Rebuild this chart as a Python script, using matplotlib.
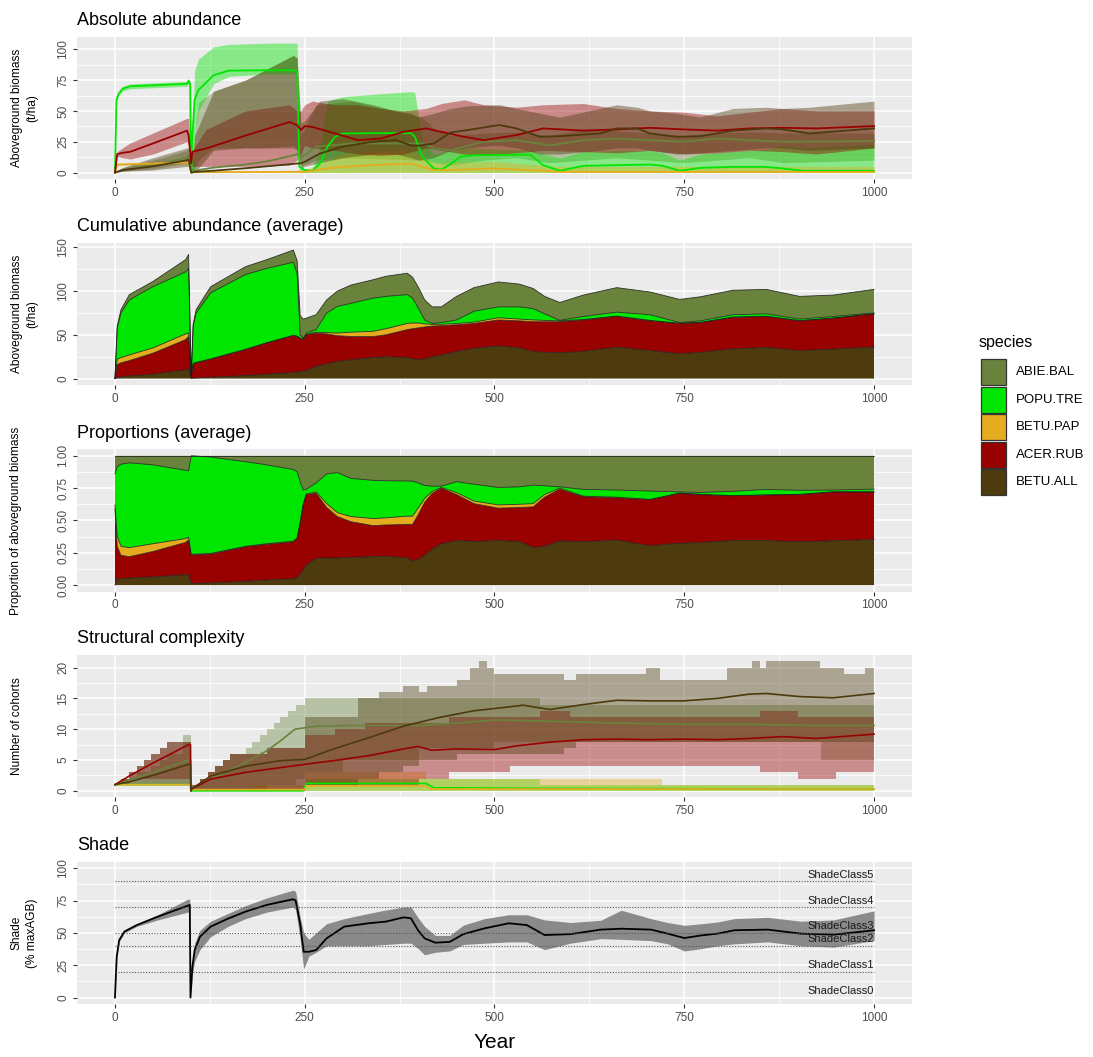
import numpy as np
import matplotlib
matplotlib.use("Agg")
import matplotlib.pyplot as plt
from matplotlib.patches import Rectangle

plt.rcParams['font.family'] = ['Liberation Sans', 'DejaVu Sans']

# ---------------- species & colours ----------------
species = ["ABIE.BAL", "POPU.TRE", "BETU.PAP", "ACER.RUB", "BETU.ALL"]
colors = {"ABIE.BAL": "#6A833C", "POPU.TRE": "#00E600", "BETU.PAP": "#E6AC20",
          "ACER.RUB": "#990000", "BETU.ALL": "#4D3A0D"}
stack_order = ["BETU.ALL", "ACER.RUB", "BETU.PAP", "POPU.TRE", "ABIE.BAL"]

# ---------------- Panel 1: absolute abundance (mean, lower, upper) ----------------
abs_years_popu = [0, 2, 5, 10, 20, 95, 97, 99, 100.5, 102, 105, 110, 130, 150, 200, 235, 240, 243, 250, 260,
                  270, 280, 290, 300, 350, 390, 395, 405, 420, 430, 440, 455, 470, 547, 564, 586, 617, 661, 705, 722,
                  744, 771, 814, 858, 880, 907, 1000]
abs_mean_popu = [0, 59, 64, 68, 70, 72, 74.5, 72, 0, 30, 59, 67, 79, 82.7, 83, 83, 82, 4.6, 2, 1.4,
                 7.3, 21, 29, 31.7, 32, 32, 29, 12.7, 3.3, 2.4, 6, 12.7, 14, 14.6, 6, 1.4, 5.4, 6, 6.5, 5.4,
                 1.4, 3.8, 4.6, 4.6, 3.3, 1.4, 1.4]
abs_hi_popu = [0, 61, 66, 70, 72, 74, 76.5, 74, 0, 40, 83, 92, 102, 104, 105, 105, 105, 5, 3, 3,
               20, 58, 60, 61.5, 64, 65.6, 65, 25, 15, 16, 18, 20, 20, 18, 15, 12, 17, 18, 18, 16,
               10, 15, 17, 19, 22, 20, 23]
abs_lo_popu = [0, 57, 62, 66, 68, 70, 72.5, 70, 0, 0, 30, 50, 72, 78, 80, 80, 80, 0, 0, 0,
               0, 0, 0, 0, 0, 0, 0, 0, 0, 0, 0, 0, 0, 0, 0, 0, 0, 0, 0, 0,
               0, 0, 0, 0, 0, 0, 0]

abs_years_acer = [0, 3, 10, 20, 50, 95, 97, 100.5, 102, 120, 172, 230, 240, 245, 250, 260, 290, 320, 350, 380,
                  410, 430, 460, 486, 529, 564, 617, 661, 705, 749, 793, 836, 880, 924, 1000]
abs_mean_acer = [0, 15, 16, 16.8, 23.6, 34, 30, 7.3, 16.8, 19.5, 30, 41, 38.5, 34.4, 37.7, 37, 31.7, 26.3, 27.6, 33,
                 35.8, 33, 29, 26.3, 30.4, 35.8, 34, 35, 36.3, 35, 34, 35.8, 36.3, 35.8, 37.7]
abs_hi_acer = [0, 17, 20, 24, 32, 44, 44, 8, 18, 35, 50, 55, 50, 50, 55, 58, 55, 55, 52, 50,
               52, 56, 59, 55, 53, 55, 56, 52, 50, 49, 46, 49, 52, 50, 50]
abs_lo_acer = [0, 13, 12, 11, 15, 25, 22, 6, 5, 5, 5, 6, 10, 15, 22, 20, 18, 15, 14, 15,
               20, 18, 15, 14, 16, 18, 17, 16, 18, 15, 16, 18, 17, 15, 20]

abs_years_betuall = [0, 10, 50, 95, 97, 100.5, 105, 130, 172, 235, 240, 245, 250, 270, 300, 340, 370, 390, 400, 420,
                     442, 464, 499, 507, 529, 560, 586, 639, 661, 688, 705, 740, 771, 814, 858, 880, 915, 1000]
abs_mean_betuall = [0, 2, 5, 10, 10.5, 0, 0.5, 1.5, 3.5, 7, 7.3, 7.5, 8.7, 15.4, 21, 25, 26.3, 22, 21.7, 23.6,
                    32.5, 34.4, 37.9, 38.5, 35.8, 29, 29.5, 31.7, 35.8, 35.8, 31.7, 29, 29.5, 34, 35.8, 35, 31.7, 35.8]
abs_hi_betuall = [0, 4, 12, 20, 20, 0, 30, 66, 75, 95, 93, 40, 42, 58, 60, 55, 50, 48, 45, 48,
                  52, 54, 55, 55, 52, 48, 45, 52, 55, 53, 50, 48, 45, 52, 53, 52, 53, 58]
abs_lo_betuall = [0, 1, 2, 5, 5, 0, 0, 18, 20, 20, 18, 3, 5, 8, 12, 15, 15, 12, 10, 12,
                  18, 20, 22, 22, 20, 15, 15, 18, 20, 20, 18, 15, 16, 18, 20, 20, 18, 20]

abs_years_abie = [0, 10, 50, 95, 97, 100.5, 105, 110, 130, 172, 200, 235, 240, 245, 265, 311, 404, 422, 442, 486,
                  529, 573, 617, 661, 749, 793, 836, 880, 1000]
abs_mean_abie = [0, 2, 6, 12, 14, 0, 1, 2, 4, 6.5, 9, 14, 15, 12, 21, 23.6, 23.6, 19.5, 18, 25,
                 26.3, 22, 26.3, 27.6, 25, 27.6, 26.3, 25, 25.5]
abs_hi_abie = [0, 4, 10, 18, 20, 0, 30, 57, 66, 75, 84, 95, 93, 30, 55, 58, 45, 35, 30, 32,
               33, 30, 35, 34, 30, 32, 33, 32, 32]
abs_lo_abie = [0, 1, 3, 8, 9, 0, 2, 10, 20, 20, 20, 22, 20, 5, 10, 12, 10, 8, 6, 10,
               12, 8, 10, 12, 8, 10, 12, 8, 10]

abs_years_pap = [0, 3, 95, 97, 100.5, 105, 240, 250, 280, 300, 340, 390, 400, 420, 442, 499, 564, 586, 1000]
abs_mean_pap = [0, 6.5, 8.1, 8, 0, 0.3, 0.5, 0.5, 3.3, 4.6, 6, 7.3, 5.4, 2, 2, 3.3, 1.4, 0.5, 0.5]
abs_hi_pap = [0, 7.5, 9, 9, 0, 1, 2, 2, 10, 15, 18, 18, 14, 8, 8, 9, 6, 5, 5]
abs_lo_pap = [0, 5.5, 7, 7, 0, 0, 0, 0, 0, 0, 0, 0, 0, 0, 0, 0, 0, 0, 0]

# ---------------- Panel 2: cumulative abundance (average, per species) ----------------
cum_years = [0, 3, 8, 19, 50, 93, 97, 100.5, 103, 107, 126, 172, 200, 235, 240, 244, 248, 252, 265, 279,
             293, 311, 340, 357, 385, 392, 400, 408, 418, 430, 450, 473, 505, 533, 551, 566, 586, 617, 661, 705,
             744, 771, 814, 858, 902, 946, 1000]
avg_betuall = [0, 1, 2, 3, 5, 10, 10.5, 0, 0.5, 0.7, 1.5, 3.5, 5, 7, 7.5, 8, 8.4, 9, 14, 17,
               19.5, 21.5, 24, 25, 24, 22.4, 21.7, 22.5, 25, 27, 31, 34.5, 37.5, 35, 31, 30, 29.5, 31, 36, 32,
               28.4, 30, 34, 35.6, 32, 33.7, 36]
avg_acer = [0, 15, 16, 17.5, 24, 34.5, 37.5, 2, 16.5, 17.3, 20.5, 29.5, 35.7, 42, 40.5, 38, 36.1, 41, 38, 34,
            29.5, 26.5, 24, 25, 32, 34.6, 36.3, 36.5, 35, 33.5, 30.5, 28.5, 29.5, 31, 34, 35, 35.5, 36, 35, 34,
            34.6, 34, 36, 35.4, 34, 35.3, 38]
avg_pap = [0, 6, 6, 6.5, 6, 6.5, 4, 0, 0.5, 0.5, 0.5, 0.5, 0.3, 0.5, 0.5, 0.5, 0.5, 0.5, 1, 1.5,
           3, 5, 6, 7, 7, 6.5, 5.5, 3.5, 2, 1.5, 1.5, 1.5, 2.5, 2, 2, 1.5, 1, 0.5, 0.5, 0.5,
           0.3, 0.3, 0.3, 0.3, 0.3, 0.2, 0.2]
avg_popu = [0, 36, 51, 63, 70, 71, 74, 1, 42.5, 56.5, 75.5, 85.5, 85, 83.5, 71.5, 3.5, 1, 1.5, 3, 22.5,
            30.5, 33, 38, 37, 33, 28.5, 16.5, 4.5, 1, 2, 4, 12.5, 12.5, 14, 13, 7.5, 0.5, 3.5, 4.5, 6.5,
            0.7, 1.7, 2.7, 2.7, 1.7, 1.8, 0.8]
avg_abie = [0, 2, 4, 6, 6, 14, 16, 0, 2, 4, 7, 9, 10, 14, 15, 22, 22, 17, 17, 15,
            17.5, 21, 21, 23, 24.5, 24, 24, 23, 19, 18, 27, 27, 28.5, 26, 23, 20, 20.5, 24.5, 28, 26,
            26.5, 27.5, 28, 28, 26, 24.5, 27]

# ---------------- Panel 3: proportions (average, per species) ----------------
prop_betuall = [0, 0.05, 0.05, 0.055, 0.064, 0.08, 0.085, 0.013, 0.013, 0.015, 0.018, 0.03, 0.04, 0.05, 0.06, 0.085,
                0.12, 0.155, 0.206, 0.21, 0.21, 0.215, 0.22, 0.224, 0.21, 0.186, 0.2, 0.23, 0.28, 0.32, 0.345,
                0.338, 0.345, 0.338, 0.29, 0.3, 0.343, 0.335, 0.348, 0.305, 0.325, 0.33, 0.345, 0.345, 0.335,
                0.343, 0.353]
prop_acer = [0.59, 0.25, 0.18, 0.165, 0.196, 0.25, 0.265, 0.217, 0.222, 0.22, 0.222, 0.266, 0.275, 0.285, 0.3,
             0.395, 0.5, 0.545, 0.504, 0.39, 0.32, 0.275, 0.24, 0.241, 0.26, 0.284, 0.35, 0.41, 0.43, 0.43,
             0.355, 0.292, 0.25, 0.262, 0.315, 0.38, 0.399, 0.348, 0.327, 0.355, 0.385, 0.37, 0.345, 0.351,
             0.365, 0.377, 0.367]
prop_pap = [0.03, 0.08, 0.07, 0.07, 0.06, 0.03, 0.02, 0.005, 0.005, 0.005, 0.005, 0.004, 0.005, 0.005, 0.005,
            0.005, 0.005, 0.005, 0.01, 0.03, 0.03, 0.04, 0.055, 0.055, 0.063, 0.063, 0.05, 0.03, 0.015, 0.005,
            0.015, 0.02, 0.025, 0.025, 0.025, 0.02, 0.008, 0.005, 0.005, 0.003, 0.002, 0.002, 0.002, 0.002,
            0.002, 0.002, 0.002]
prop_popu = [0.24, 0.535, 0.635, 0.655, 0.61, 0.528, 0.514, 0.765, 0.76, 0.758, 0.745, 0.654, 0.61, 0.554, 0.511,
             0.315, 0.11, 0.035, 0.07, 0.23, 0.31, 0.295, 0.295, 0.287, 0.272, 0.271, 0.19, 0.1, 0.04, 0.01,
             0.085, 0.13, 0.135, 0.135, 0.143, 0.068, 0.01, 0.052, 0.055, 0.064, 0.008, 0.014, 0.033, 0.042,
             0.031, 0.013, 0.02]
prop_abie = [0.14, 0.085, 0.065, 0.055, 0.07, 0.112, 0.116, 0.0, 0.0, 0.002, 0.01, 0.046, 0.07, 0.106, 0.124,
             0.2, 0.265, 0.26, 0.21, 0.14, 0.13, 0.175, 0.19, 0.193, 0.195, 0.196, 0.21, 0.23, 0.235, 0.235,
             0.2, 0.22, 0.245, 0.24, 0.227, 0.232, 0.24, 0.26, 0.265, 0.273, 0.28, 0.284, 0.275, 0.26,
             0.267, 0.265, 0.258]

# ---------------- Panel 4: structural complexity (number of cohorts) ----------------
coh_years_abie = [0, 8, 19, 29, 38, 48, 59, 68, 89, 100, 101, 112, 122, 132, 142, 152, 172, 181, 191, 200,
                  209, 218, 228, 239, 251, 300, 400, 500, 560, 930, 1000]
coh_hi_abie = [1, 2, 2, 3, 3, 4, 5, 6, 9, 0, 1, 2, 3, 4, 5, 6, 7, 8, 9, 10,
               11, 12, 13, 14, 15, 15, 15, 15, 14, 14, 14]
coh_lo_abie = [1, 1, 1, 1, 1, 1, 1, 1, 1, 0, 0, 0, 0, 0, 0, 0, 0, 0, 0, 1,
               1, 1, 1, 2, 3, 5, 7, 8, 8, 5, 5]
cohm_years_abie = [0, 20, 50, 97, 99.5, 100, 101, 126, 172, 200, 218, 237, 265, 311, 404, 450, 500, 573, 661, 749,
                   836, 924, 1000]
cohm_abie = [1, 1.8, 3, 5, 5, 0, 0.5, 1.9, 4.6, 6.5, 8.1, 10, 10.5, 10.6, 10.6, 11, 11.5, 11.3, 11, 10.8,
             10.8, 10.6, 10.6]

coh_years_acer = [0, 8, 19, 29, 38, 48, 59, 68, 79, 89, 100, 101, 112, 122, 132, 142, 152, 200, 250, 290,
                  330, 370, 400, 440, 480, 520, 560, 600, 650, 700, 780, 850, 900, 950, 1000]
coh_hi_acer = [1, 2, 3, 4, 5, 6, 7, 8, 8, 8, 0, 1, 2, 3, 4, 5, 6, 7, 9, 10,
               11, 11, 11, 12, 12, 12, 13, 12, 12, 12, 12, 13, 12, 12, 12]
coh_lo_acer = [1, 1, 2, 2, 2, 2, 2, 2, 2, 2, 0, 0, 0, 0, 0, 0, 0, 0, 1, 1,
               1, 1, 2, 3, 3, 4, 4, 4, 4, 4, 4, 3, 2, 3, 4]
cohm_years_acer = [0, 20, 50, 97, 99.5, 100, 101, 126, 172, 250, 288, 334, 380, 399, 417, 450, 500, 529, 573, 617,
                   661, 705, 749, 793, 836, 880, 924, 1000]
cohm_acer = [1, 2.5, 4.5, 7.5, 7.5, 0, 0.3, 1.9, 3, 4.3, 4.9, 5.7, 6.8, 7.2, 6.6, 6.8, 6.7, 7.3, 7.9, 8.3,
             8.4, 8.3, 8.4, 8.3, 8.5, 8.8, 8.5, 9.2]

coh_years_betuall = [0, 8, 19, 29, 38, 48, 59, 68, 100, 101, 112, 122, 132, 142, 152, 200, 250, 320, 348, 380,
                     401, 411, 450, 468, 479, 490, 499, 591, 608, 700, 718, 806, 839, 850, 858, 929, 960, 988, 1000]
coh_hi_betuall = [1, 2, 3, 4, 5, 6, 7, 8, 0, 1, 2, 3, 4, 5, 6, 7, 12, 15, 16, 17,
                  16, 17, 18, 20, 21, 20, 19, 18, 19, 20, 18, 20, 21, 20, 21, 20, 19, 20, 20]
coh_lo_betuall = [1, 1, 1, 1, 1, 1, 1, 1, 0, 0, 0, 0, 0, 0, 0, 0, 1, 2, 3, 4,
                  5, 5, 6, 6, 6, 6, 6, 7, 8, 8, 8, 8, 8, 8, 8, 8, 8, 8, 8]
cohm_years_betuall = [0, 20, 50, 97, 99.5, 100, 101, 126, 172, 218, 250, 288, 334, 380, 427, 473, 510, 538, 573, 617,
                      661, 705, 749, 793, 836, 858, 902, 946, 1000]
cohm_betuall = [1, 1.5, 2.5, 4.3, 4.3, 0, 0.3, 2.4, 4, 4.9, 5.1, 6.8, 8.6, 10.5, 11.9, 13, 13.5, 13.9, 13.2, 14,
                14.7, 14.6, 14.6, 15, 15.7, 15.8, 15.3, 15.1, 15.8]

coh_years_pap = [0, 100, 101, 180, 250, 410, 720, 1000]
coh_hi_pap = [1, 0, 0, 1, 3, 2, 1, 1]
coh_lo_pap = [1, 0, 0, 0, 0, 0, 0, 0]
cohm_years_pap = [0, 99.5, 100, 101, 250, 252, 410, 415, 1000]
cohm_pap = [1, 1, 0, 0.2, 0.2, 0.8, 0.8, 0.3, 0.3]

coh_years_popu = [0, 100, 101, 250, 560, 1000]
coh_hi_popu = [1, 0, 0, 2, 1, 1]
coh_lo_popu = [1, 0, 0, 0, 0, 0]
cohm_years_popu = [0, 99.5, 100, 101, 248, 252, 410, 420, 560, 1000]
cohm_popu = [1, 1, 0, 0, 0, 1.2, 1.2, 0.5, 0.4, 0.3]

# ---------------- Panel 5: shade ----------------
shade_years = [0, 2.3, 5.6, 12.5, 28.7, 56.5, 95.8, 98.6, 99.5, 102, 105, 112, 126, 149, 172, 200, 234.7, 238, 244,
               248.6, 255.5, 265, 278.7, 302, 334, 357, 380.5, 390, 399, 408, 422, 441, 459, 487, 519, 542.6, 566,
               600, 640, 667, 706, 728, 750, 772, 794, 816, 860, 903.5, 947, 1000]
shade_mean = [0, 31.5, 44.4, 51, 56, 62.5, 71, 71.6, 0, 23.8, 36.7, 47, 54.8, 61, 66.4, 71.6, 76, 75, 57,
              35.4, 35.4, 36.7, 45.7, 54.8, 57.4, 58.7, 62, 61.2, 52.2, 45.7, 42.4, 43, 49, 53.5, 57.4, 56, 48.3,
              49, 52.5, 53.2, 52.5, 49.4, 46, 48, 49.4, 52, 52.5, 49.4, 48.6, 52]
shade_hi = [0, 32, 45, 52, 57, 64, 76, 76, 0, 26, 42, 52, 59, 65, 71, 77, 83, 82, 62,
            50, 45, 50, 57, 61, 65, 67.7, 70, 70, 62, 55, 48, 48, 56, 61, 64, 64, 60,
            58, 59.7, 67.5, 61, 58, 55.8, 57, 58.4, 61, 62, 59, 60, 67]
shade_lo = [0, 30, 43, 50, 55, 60, 66, 66, 0, 18, 28, 37, 47, 55, 61, 66, 70, 68, 45,
            22, 32, 35, 40, 40, 40, 41, 42, 42, 38, 33, 35, 36, 41, 42, 43, 43, 37,
            42, 45.5, 45, 44, 41.5, 36, 37.7, 40, 41.5, 43, 40, 39, 44]
shade_class_levels = [20, 40, 50, 70, 90]
shade_class_labels = ["ShadeClass0", "ShadeClass1", "ShadeClass2", "ShadeClass3", "ShadeClass4", "ShadeClass5"]
shade_class_label_y = [5, 25, 45, 55, 75, 95]

# ---------------- figure ----------------
W_PX, H_PX = 1093, 1057
fig = plt.figure(figsize=(W_PX / 100, H_PX / 100), dpi=100)

def fx(px):
    return px / W_PX

def fy(py):
    return 1 - py / H_PX

L = fx(77)
Wd = 835 / W_PX
Hd = 142.3 / H_PX
panel_tops = [36.7, 242.7, 449.3, 655.0, 861.7]
axes = [fig.add_axes([L, fy(t + 142.3), Wd, Hd]) for t in panel_tops]

def style(ax, ylim, yticks, ylabels, yminor, title):
    ax.set_facecolor('#EBEBEB')
    ax.set_xlim(-50, 1050)
    ax.set_ylim(*ylim)
    ax.set_xticks([0, 250, 500, 750, 1000])
    ax.set_xticklabels(["0", "250", "500", "750", "1000"])
    ax.set_xticks([125, 375, 625, 875], minor=True)
    ax.set_yticks(yticks)
    ax.set_yticklabels(ylabels, rotation=90, va='center')
    ax.set_yticks(yminor, minor=True)
    ax.grid(which='major', color='white', lw=1.1)
    ax.grid(which='minor', color='white', lw=0.55)
    ax.set_axisbelow(True)
    for s in ax.spines.values():
        s.set_visible(False)
    ax.tick_params(which='major', length=3, width=0.8, color='#333333', labelsize=8.5,
                   labelcolor='#4D4D4D', pad=2.5)
    ax.tick_params(which='minor', length=0)
    ax.set_title(title, loc='left', fontsize=13, pad=8.4, color='black')

# Panel 1
ax = axes[0]
p1 = {
    "ABIE.BAL": (abs_years_abie, abs_mean_abie, abs_lo_abie, abs_hi_abie),
    "POPU.TRE": (abs_years_popu, abs_mean_popu, abs_lo_popu, abs_hi_popu),
    "BETU.PAP": (abs_years_pap, abs_mean_pap, abs_lo_pap, abs_hi_pap),
    "ACER.RUB": (abs_years_acer, abs_mean_acer, abs_lo_acer, abs_hi_acer),
    "BETU.ALL": (abs_years_betuall, abs_mean_betuall, abs_lo_betuall, abs_hi_betuall),
}
for sp in species:
    x, m, lo, hi = p1[sp]
    ax.fill_between(x, lo, hi, color=colors[sp], alpha=0.42, lw=0)
for sp in species:
    x, m, lo, hi = p1[sp]
    ax.plot(x, m, color=colors[sp], lw=1.3)
style(ax, (-5.25, 110.25), [0, 25, 50, 75, 100], ["0", "25", "50", "75", "100"],
      [12.5, 37.5, 62.5, 87.5], "Absolute abundance")

# Panel 2
ax = axes[1]
p2 = {"BETU.ALL": avg_betuall, "ACER.RUB": avg_acer, "BETU.PAP": avg_pap,
      "POPU.TRE": avg_popu, "ABIE.BAL": avg_abie}
base = np.zeros(len(cum_years))
tops = []
for sp in stack_order:
    top = base + np.array(p2[sp])
    ax.fill_between(cum_years, base, top, facecolor=colors[sp], edgecolor='none', lw=0)
    tops.append(top)
    base = top
for t in tops:
    ax.plot(cum_years, t, color='#1A1A1A', lw=0.6, alpha=0.85)
style(ax, (-7.4, 155.4), [0, 50, 100, 150], ["0", "50", "100", "150"],
      [25, 75, 125], "Cumulative abundance (average)")

# Panel 3
ax = axes[2]
p3 = {"BETU.ALL": prop_betuall, "ACER.RUB": prop_acer, "BETU.PAP": prop_pap,
      "POPU.TRE": prop_popu, "ABIE.BAL": prop_abie}
base = np.zeros(len(cum_years))
tops = []
for sp in stack_order:
    top = base + np.array(p3[sp])
    ax.fill_between(cum_years, base, top, facecolor=colors[sp], edgecolor='none', lw=0)
    tops.append(top)
    base = top
for t in tops:
    ax.plot(cum_years, t, color='#1A1A1A', lw=0.6, alpha=0.85)
style(ax, (-0.05, 1.05), [0, 0.25, 0.5, 0.75, 1.0], ["0.00", "0.25", "0.50", "0.75", "1.00"],
      [0.125, 0.375, 0.625, 0.875], "Proportions (average)")

# Panel 4
ax = axes[3]
p4 = {
    "ABIE.BAL": (coh_years_abie, coh_lo_abie, coh_hi_abie, cohm_years_abie, cohm_abie),
    "POPU.TRE": (coh_years_popu, coh_lo_popu, coh_hi_popu, cohm_years_popu, cohm_popu),
    "BETU.PAP": (coh_years_pap, coh_lo_pap, coh_hi_pap, cohm_years_pap, cohm_pap),
    "ACER.RUB": (coh_years_acer, coh_lo_acer, coh_hi_acer, cohm_years_acer, cohm_acer),
    "BETU.ALL": (coh_years_betuall, coh_lo_betuall, coh_hi_betuall, cohm_years_betuall, cohm_betuall),
}
for sp in species:
    x, lo, hi, xm, m = p4[sp]
    ax.fill_between(x, lo, hi, step='post', color=colors[sp], alpha=0.4, lw=0)
for sp in species:
    x, lo, hi, xm, m = p4[sp]
    ax.plot(xm, m, color=colors[sp], lw=1.2)
style(ax, (-1.05, 22.05), [0, 5, 10, 15, 20], ["0", "5", "10", "15", "20"],
      [2.5, 7.5, 12.5, 17.5], "Structural complexity")

# Panel 5
ax = axes[4]
ax.fill_between(shade_years, shade_lo, shade_hi, color='#8A8A8A', lw=0)
ax.plot(shade_years, shade_mean, color='black', lw=1.3)
for lev in shade_class_levels:
    ax.plot([0, 1000], [lev, lev], color='#555555', lw=0.8, linestyle=(0, (1, 1.5)))
for lab, yv in zip(shade_class_labels, shade_class_label_y):
    ax.text(1000, yv, lab, ha='right', va='center', fontsize=8, color='#1A1A1A')
style(ax, (-5, 105), [0, 25, 50, 75, 100], ["0", "25", "50", "75", "100"],
      [12.5, 37.5, 62.5, 87.5], "Shade")

# Y-axis titles
ylab_specs = [
    ("Aboveground biomass\n(t/ha)", 24.5, 107.9),
    ("Aboveground biomass\n(t/ha)", 24.5, 313.9),
    ("Proportion of aboveground biomass", 16.5, 520.5),
    ("Number of cohorts", 17.5, 726.0),
    ("Shade\n(% maxAGB)", 24.5, 933.0),
]
for txt, xp, yp in ylab_specs:
    fig.text(fx(xp), fy(yp), txt, rotation=90, ha='center', va='center', fontsize=8.6,
             multialignment='center', linespacing=1.35)

# X-axis title
fig.text(fx(494.5), fy(1043), "Year", ha='center', va='center', fontsize=15)

# Legend
fig.text(fx(979), fy(342), "species", ha='left', va='center', fontsize=11.5)
key_w, key_h, key_step = 25.3, 26.0, 27.4
for i, sp in enumerate(species):
    top = 359.3 + i * key_step
    fig.add_artist(Rectangle((fx(980.7), fy(top + key_h)), key_w / W_PX, key_h / H_PX,
                             transform=fig.transFigure, facecolor=colors[sp],
                             edgecolor='#333333', lw=0.9))
    fig.text(fx(1016), fy(top + key_h / 2), sp, ha='left', va='center', fontsize=9.5)

fig.savefig("out.png", dpi=100)
